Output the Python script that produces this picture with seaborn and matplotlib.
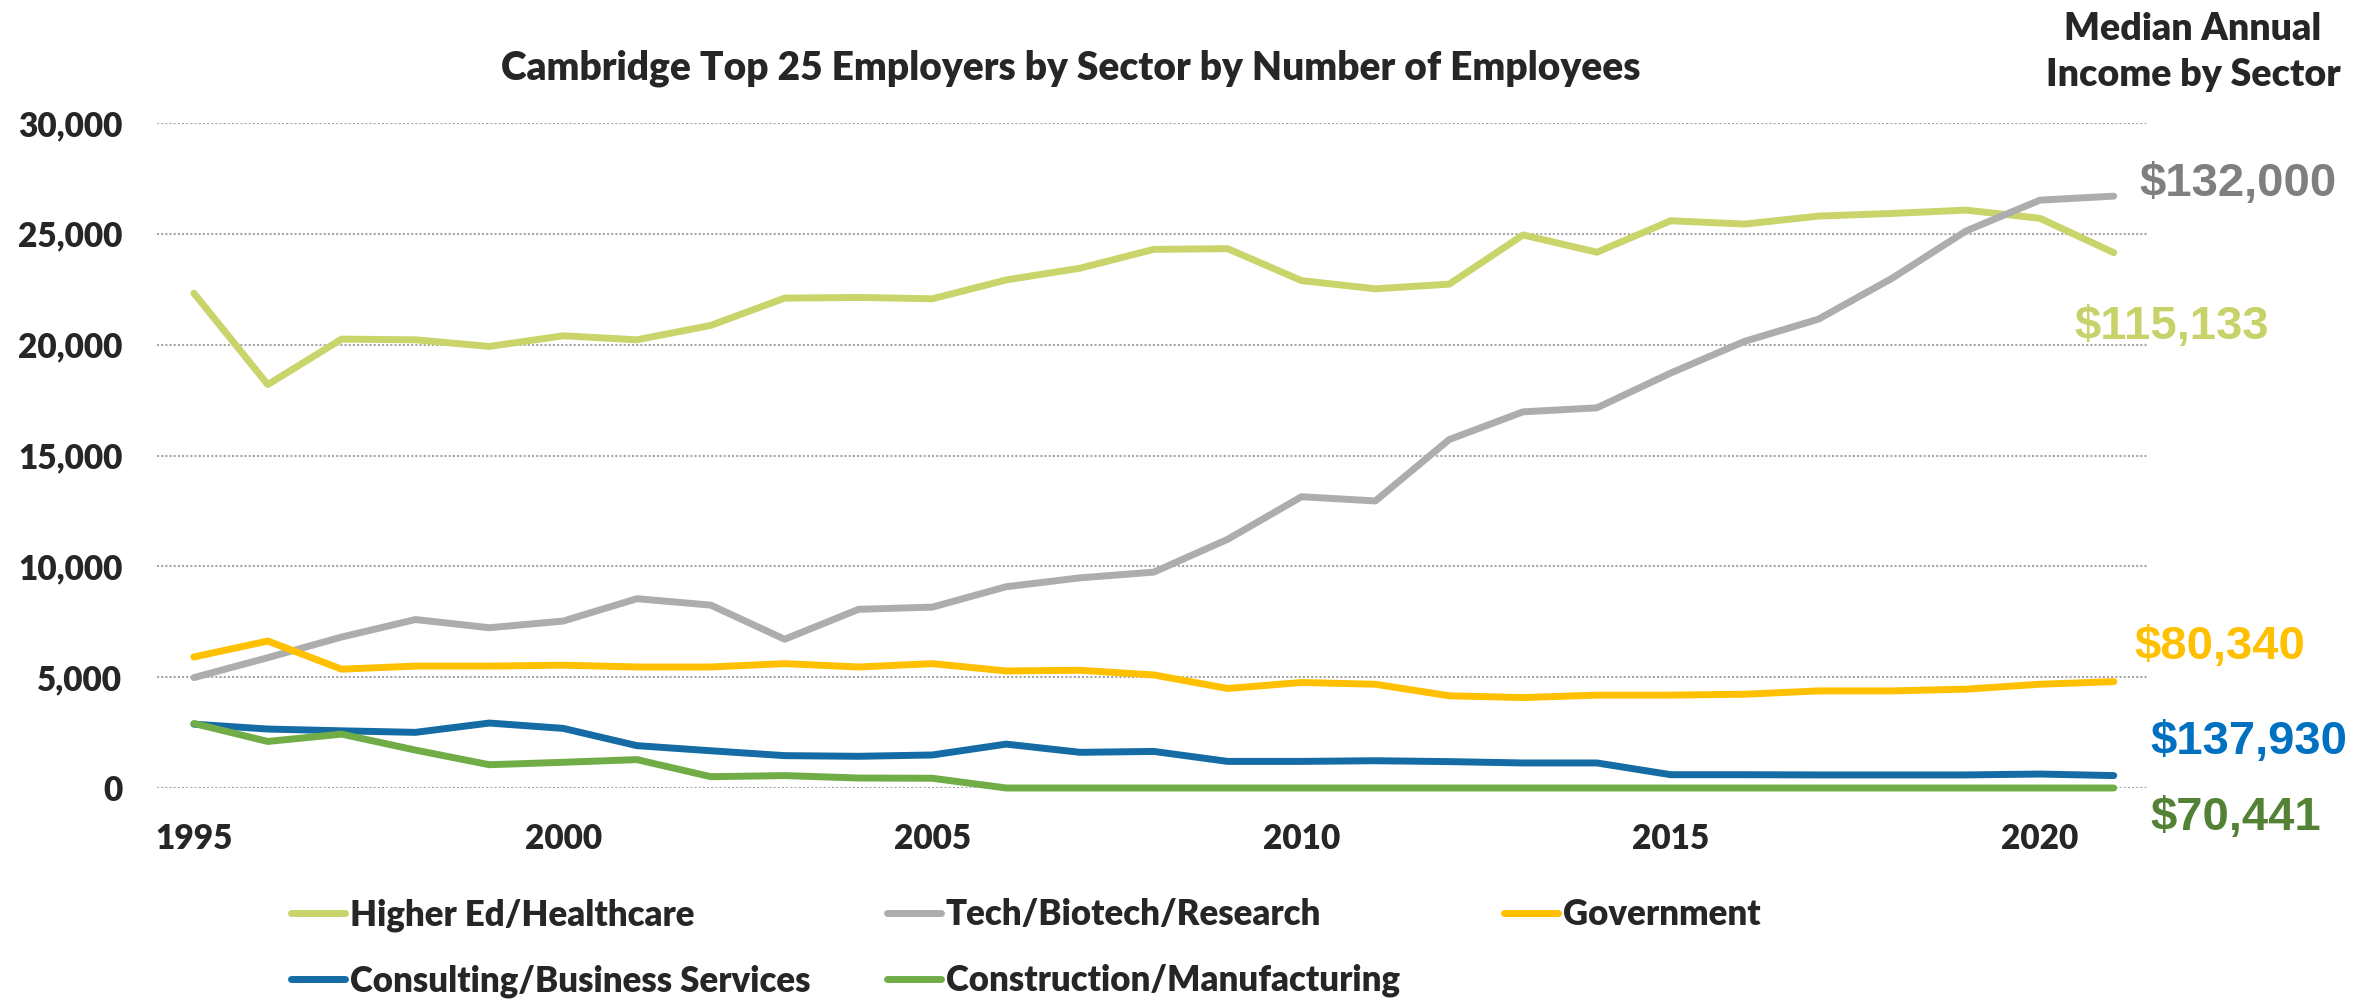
import pandas as pd
import seaborn as sns
import matplotlib.pyplot as plt

# data
years = list(range(1995, 2022))
higher_ed = [22320, 18200, 20250, 20220, 19920, 20400, 20220, 20870, 22100, 22130,
             22070, 22920, 23450, 24300, 24330, 22890, 22520, 22730, 24950, 24170,
             25590, 25440, 25800, 25920, 26070, 25700, 24150]
tech = [4980, 5880, 6810, 7600, 7230, 7530, 8540, 8250, 6710, 8060,
        8160, 9080, 9480, 9740, 11220, 13140, 12950, 15720, 16970, 17150,
        18720, 20150, 21150, 23000, 25130, 26520, 26700]
government = [5910, 6630, 5360, 5500, 5500, 5540, 5460, 5460, 5610, 5460,
              5610, 5280, 5310, 5100, 4490, 4760, 4680, 4160, 4080, 4190,
              4190, 4230, 4380, 4380, 4460, 4680, 4800]
consulting = [2880, 2660, 2580, 2510, 2930, 2690, 1910, 1680, 1460, 1430,
              1490, 1980, 1610, 1650, 1200, 1200, 1230, 1190, 1130, 1130,
              600, 600, 590, 590, 590, 630, 560]
construction = [2910, 2100, 2430, 1710, 1050, 1160, 1280, 510, 560, 450,
                440, 0, 0, 0, 0, 0, 0, 0, 0, 0,
                0, 0, 0, 0, 0, 0, 0]

sectors = ['Higher Ed/Healthcare', 'Tech/Biotech/Research', 'Government',
           'Consulting/Business Services', 'Construction/Manufacturing']
line_colors = ['#C9D46B', '#ADADAD', '#FFC000', '#156BA3', '#70AD47']

income_labels = ['$115,133', '$132,000', '$80,340', '$137,930', '$70,441']
income_colors = ['#C8D26A', '#7F7F7F', '#FFC000', '#0070C0', '#548235']

y_ticks = [0, 5000, 10000, 15000, 20000, 25000, 30000]
x_ticks = [1995, 2000, 2005, 2010, 2015, 2020]

df = pd.DataFrame({'year': years, sectors[0]: higher_ed, sectors[1]: tech,
                   sectors[2]: government, sectors[3]: consulting,
                   sectors[4]: construction})
df = df.melt(id_vars='year', var_name='sector', value_name='employees')

sns.set_theme(style='white')
plt.rcParams['font.family'] = ['Lato', 'DejaVu Sans']
wt = 'heavy'

W, H = 2366, 999
fig = plt.figure(figsize=(W / 100, H / 100), dpi=100)
ax = fig.add_axes([157 / W, 1 - 788 / H, (2147 - 157) / W, (788 - 123) / H])

sns.lineplot(data=df, x='year', y='employees', hue='sector', hue_order=sectors,
             palette=line_colors, linewidth=5, ax=ax, legend=False)
for ln in ax.get_lines():
    ln.set_clip_on(False)
    ln.set_solid_capstyle('round')

ax.set_xlim(1994.5, 2021.45)
ax.set_ylim(0, 30000)
ax.set_xticks(x_ticks)
ax.set_yticks(y_ticks)
ax.set_yticklabels([f'{v:,}' for v in y_ticks])
ax.tick_params(axis='y', length=0, pad=25, labelsize=24)
ax.tick_params(axis='x', length=0, pad=25, labelsize=24)
for lab in ax.get_xticklabels() + ax.get_yticklabels():
    lab.set_fontweight(wt)
ax.set_xlabel('')
ax.set_ylabel('')
ax.grid(axis='y', color='#A6A6A6', linestyle=(0, (1, 1)), linewidth=1.5)
ax.grid(axis='x', visible=False)
sns.despine(ax=ax, left=True, bottom=True)

# legend, Excel style: first two columns, then Government on its own
lines = ax.get_lines()[:5]
leg_kw = dict(loc='upper left', frameon=False, prop={'weight': wt, 'size': 25},
              handlelength=1.55, handletextpad=0.15, columnspacing=2.2,
              labelspacing=0.95, borderpad=0, borderaxespad=0)
order = [0, 3, 1, 4]
leg1 = fig.legend([lines[i] for i in order], [sectors[i] for i in order],
                  bbox_to_anchor=(291 / W, 1 - 898 / H), ncol=2, **leg_kw)
fig.legend([lines[2]], [sectors[2]],
           bbox_to_anchor=(1504 / W, 1 - 898 / H), ncol=1, **leg_kw)

fig.text(1071 / W, 1 - 68 / H,
         'Cambridge Top 25 Employers by Sector by Number of Employees',
         ha='center', va='center', fontsize=28, fontweight=wt)
fig.text(2193 / W, 1 - 52 / H, 'Median Annual\nIncome by Sector',
         ha='center', va='center', fontsize=27, fontweight=wt,
         linespacing=1.45)

label_pos = [(2074, 327), (2139, 184), (2134, 647), (2150, 742), (2150, 818)]
for txt, col, (px, py) in zip(income_labels, income_colors, label_pos):
    fig.text(px / W, 1 - py / H, txt, ha='left', va='center', color=col,
             fontsize=34, fontweight='bold', family='Liberation Sans')

fig.savefig('out.png', dpi=100)
